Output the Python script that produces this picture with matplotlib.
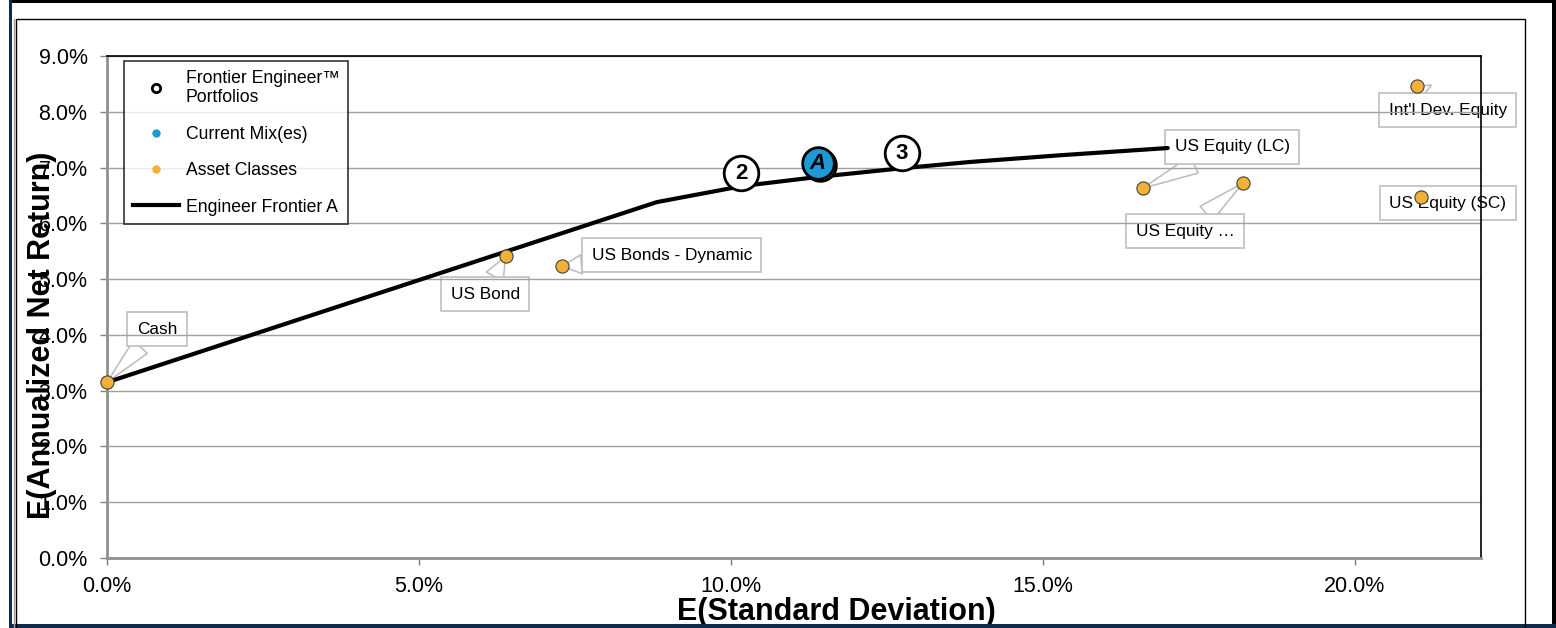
import matplotlib
matplotlib.use('Agg')
import matplotlib.pyplot as plt
from matplotlib.patches import Rectangle
from matplotlib.lines import Line2D
import matplotlib.transforms as mtransforms

plt.rcParams['font.family'] = ['Liberation Sans', 'DejaVu Sans']

# asset classes (std dev %, return %)
asset_names = ['Cash', 'US Bond', 'US Bonds - Dynamic', 'US Equity (LC)',
               'US Equity \u2026', 'US Equity (SC)', "Int'l Dev. Equity"]
asset_sd = [0.0, 6.39, 7.29, 16.6, 18.2, 21.06, 21.0]
asset_ret = [3.15, 5.41, 5.23, 6.63, 6.72, 6.47, 8.46]

# efficient frontier A
frontier_sd = [0.0, 8.81, 10.19, 11.38, 12.76, 13.83, 15.27, 17.0]
frontier_ret = [3.15, 6.38, 6.67, 6.83, 6.99, 7.10, 7.22, 7.35]

# frontier engineer portfolios
port_names = ['2', '3']
port_sd = [10.16, 12.74]
port_ret = [6.90, 7.26]

# current mix
mix_names = ['A']
mix_sd = [11.39]
mix_ret = [7.08]

# label box centres (layout only)
label_pos = [(0.80, 4.10), (6.06, 4.73), (9.05, 5.43), (18.03, 7.37),
             (17.28, 5.86), (21.49, 6.36), (21.49, 8.03)]

xticks = [0, 5, 10, 15, 20]
yticks = [0, 1, 2, 3, 4, 5, 6, 7, 8, 9]

W, H = 1556, 628
fig = plt.figure(figsize=(W / 100, H / 100), dpi=100)
ax = fig.add_axes([107 / W, 1 - 558 / H, 1374 / W, 502 / H])


def px_rect(x0, y0, x1, y1, **kw):
    r = Rectangle((x0 / W, 1 - y1 / H), (x1 - x0) / W, (y1 - y0) / H,
                  transform=fig.transFigure, **kw)
    fig.add_artist(r)


# outer frame
px_rect(9, 0, 1556, 3, color='black', lw=0)
px_rect(1552, 0, 1556, 628, color='black', lw=0)
px_rect(9, 0, 12, 628, color='#0f2a4a', lw=0)
px_rect(9, 624, 1556, 628, color='#0f2a4a', lw=0)
fig.add_artist(Line2D([14 / W, 14 / W], [0, 1 - 19 / H], transform=fig.transFigure,
                      color='#a0a0a0', lw=1))
px_rect(16, 19, 1525, 640, fill=False, ec='black', lw=1)

ax.set_xlim(0, 22.02)
ax.set_ylim(0, 9)
ax.set_xticks(xticks)
ax.set_xticklabels(['{:.1f}%'.format(v) for v in xticks])
ax.set_yticks(yticks)
ax.set_yticklabels(['{:.1f}%'.format(v) for v in yticks])
ax.tick_params(axis='both', labelsize=15.5, colors='#808080', labelcolor='black',
               length=5, width=1, direction='out')
ax.tick_params(axis='x', pad=8)
ax.tick_params(axis='y', pad=9)
ax.grid(axis='y', color='#a0a0a0', lw=1)
ax.set_axisbelow(True)
for s in ['left', 'bottom']:
    ax.spines[s].set_color('#909090')
    ax.spines[s].set_linewidth(2)
for s in ['top', 'right']:
    ax.spines[s].set_color('black')
    ax.spines[s].set_linewidth(1.2)

# frontier
ax.plot(frontier_sd, frontier_ret, color='black', lw=3, solid_capstyle='round', zorder=3)

# asset classes
ax.scatter(asset_sd, asset_ret, s=90, color='#f2b134', edgecolor='#404040',
           lw=0.8, zorder=5, clip_on=False)
for name, (sx, sy), (lx, ly) in zip(asset_names, zip(asset_sd, asset_ret), label_pos):
    ax.annotate(name, xy=(sx, sy), xytext=(lx, ly), ha='center', va='center',
                fontsize=12.4, annotation_clip=False, zorder=0.4,
                bbox=dict(boxstyle='square,pad=0.55', fc='white', ec='#bfbfbf', lw=1.2),
                arrowprops=dict(arrowstyle='wedge,tail_width=1.1', fc='white',
                                ec='#bfbfbf', lw=1.2, shrinkA=0, shrinkB=0))

# portfolios
ax.scatter(port_sd, port_ret, s=620, color='white', edgecolor='black', lw=2, zorder=6)
for n, x, y in zip(port_names, port_sd, port_ret):
    ax.text(x, y, n, ha='center', va='center', fontsize=16, fontweight='bold', zorder=7)

# current mix
shadow = ax.transData + mtransforms.ScaledTranslation(2.5 / 100, -1.5 / 100, fig.dpi_scale_trans)
ax.scatter(mix_sd, mix_ret, s=520, facecolor='white', edgecolor='black', lw=2,
           zorder=6, transform=shadow)
ax.scatter(mix_sd, mix_ret, s=520, color='#1d9ad6', edgecolor='black', lw=2, zorder=6)
for n, x, y in zip(mix_names, mix_sd, mix_ret):
    ax.text(x, y, n, ha='center', va='center', fontsize=16, fontweight='bold',
            fontstyle='italic', zorder=7)

# legend
handles = [
    Line2D([], [], ls='none', marker='o', ms=6, mfc='white', mec='black', mew=2),
    Line2D([], [], ls='none', marker='o', ms=5, mfc='#1d9ad6', mec='#1d9ad6'),
    Line2D([], [], ls='none', marker='o', ms=5, mfc='#f2b134', mec='#f2b134'),
    Line2D([], [], color='black', lw=3),
]
labels = ['Frontier Engineer\u2122\nPortfolios', 'Current Mix(es)', 'Asset Classes',
          'Engineer Frontier A']
leg = ax.legend(handles, labels, loc='upper left', bbox_to_anchor=(0.0124, 0.99),
                fontsize=12.7, frameon=True, fancybox=False, borderaxespad=0,
                labelspacing=1.1, handlelength=2.6, handletextpad=0.4,
                borderpad=0.5)
leg.get_frame().set_edgecolor('black')
leg.get_frame().set_linewidth(1.2)
leg.set_zorder(10)

ax.set_xlabel('E(Standard Deviation)', fontsize=22, fontweight='bold', va='center')
ax.xaxis.set_label_coords(0.531, -0.108)
ax.set_ylabel('E(Annualized Net Return)', fontsize=22, fontweight='bold', va='center')
ax.yaxis.set_label_coords(-0.0475, 0.444)
ax.yaxis.label.set_zorder(20)

fig.savefig('out.png', dpi=100, facecolor='white')
